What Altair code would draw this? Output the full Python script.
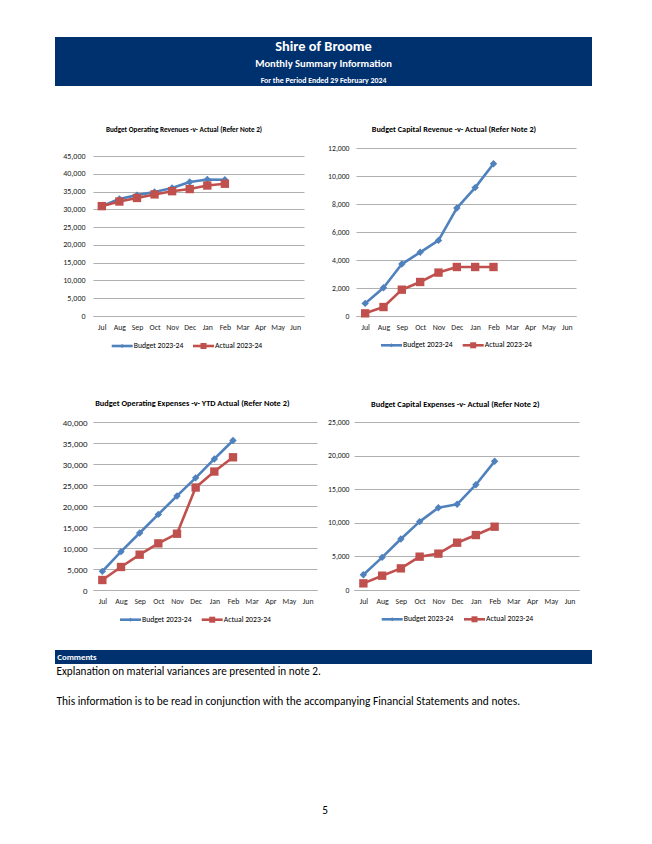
import altair as alt
import pandas as pd

FONT = "Carlito, Calibri, Lato, sans-serif"
NAVY = "#00316F"
BLUE = "#4F81BD"
RED = "#C0504D"
GRID = "#B0B0B0"
LABEL = "#222222"

# ---------------- data ----------------
months = ["Jul", "Aug", "Sep", "Oct", "Nov", "Dec", "Jan", "Feb", "Mar", "Apr", "May", "Jun"]
series = ["Budget 2023-24", "Actual 2023-24"]

op_rev_budget = [30900, 32900, 34000, 34900, 36000, 37700, 38400, 38300]
op_rev_actual = [30900, 32200, 33200, 34200, 35100, 35700, 36700, 37200]
cap_rev_budget = [900, 2020, 3710, 4550, 5400, 7710, 9170, 10880]
cap_rev_actual = [190, 640, 1880, 2430, 3100, 3500, 3500, 3500]
op_exp_budget = [4440, 9130, 13570, 18000, 22400, 26700, 31200, 35600]
op_exp_actual = [2380, 5480, 8410, 11100, 13400, 24400, 28200, 31600]
cap_exp_budget = [2280, 4860, 7590, 10170, 12250, 12750, 15670, 19150]
cap_exp_actual = [990, 2130, 3220, 4960, 5410, 7040, 8180, 9420]

chart_titles = [
    "Budget Operating Revenues -v- Actual (Refer Note 2)",
    "Budget Capital Revenue -v- Actual (Refer Note 2)",
    "Budget Operating Expenses -v- YTD Actual (Refer Note 2)",
    "Budget Capital Expenses -v- Actual (Refer Note 2)",
]
header_lines = ["Shire of Broome", "Monthly Summary Information",
                "For the Period Ended 29 February 2024"]
comments_title = "Comments"
comment_lines = [
    "Explanation on material variances are presented in note 2.",
    "This information is to be read in conjunction with the accompanying Financial Statements and notes.",
]
page_number = "5"

ONE = pd.DataFrame({"k": [0]})
LEFT = 85  # every row's origin sits 85px right of the page content edge


def text_layer(txt, x, y, size, weight="normal", color="black", align="center"):
    return alt.Chart(pd.DataFrame({"t": [txt]})).mark_text(
        font=FONT, fontSize=size, fontWeight=weight, color=color,
        align=align, baseline="middle"
    ).encode(x=alt.value(x), y=alt.value(y), text="t:N")


def frame(x0, x1, y0, y1):
    return alt.Chart(ONE).mark_rect(opacity=0).encode(
        x=alt.value(x0), x2=alt.value(x1), y=alt.value(y0), y2=alt.value(y1))


def panel(title, budget, actual, ymax, ystep, g):
    rows = []
    for name, vals in zip(series, [budget, actual]):
        for i, v in enumerate(vals):
            rows.append({"month": months[i], "idx": i, "series": name, "value": v})
    df = pd.DataFrame(rows)

    xenc = alt.X("month:N", sort=months, scale=alt.Scale(domain=months),
                 title=None,
                 axis=alt.Axis(labelAngle=0, labelFont=FONT, labelFontSize=g["xfs"],
                               labelColor=LABEL, labelPadding=g["xpad"], ticks=False,
                               tickSize=0, domain=True, domainColor=GRID, domainWidth=1.2,
                               grid=False))
    yenc = alt.Y("value:Q", scale=alt.Scale(domain=[0, g.get("dmax", ymax)], nice=False,
                                            zero=True),
                 title=None,
                 axis=alt.Axis(values=list(range(0, ymax + 1, ystep)), format=",.0f",
                               labelFont=FONT, labelFontSize=g["yfs"], labelColor=LABEL,
                               labelPadding=g["ypad"], ticks=False, tickSize=0,
                               domain=False, grid=True, gridColor=GRID, gridWidth=1.2))

    fx, fy, cw, ch = g["fx"], g["fy"], g["cw"], g["ch"]
    layers = [frame(-fx, cw - fx, -fy, ch - fy),
              text_layer(title, g["tx"], g["ty"], g["tfs"], weight="bold")]
    styles = [(BLUE, "diamond", 55), (RED, "square", 70)]
    for name, (col, shp, sz) in zip(series, styles):
        sub = alt.Chart(df).transform_filter(alt.datum.series == name)
        layers.append(sub.mark_line(color=col, strokeWidth=2.6, strokeJoin="round",
                                    strokeCap="round").encode(x=xenc, y=yenc, order="idx:Q"))
        layers.append(sub.mark_point(filled=True, shape=shp, size=sz, color=col,
                                     opacity=1).encode(x=xenc, y=yenc))

    # legend (line + marker + label), like the spreadsheet legend
    ly = g["ly"]
    leg_sizes = [16, 36]
    for k, (name, (col, shp, sz)) in enumerate(zip(series, styles)):
        x0 = g["lx"][k]
        ld = alt.Chart(pd.DataFrame({"series": [name]}))
        layers.append(ld.mark_rule(color=col, strokeWidth=2.6).encode(
            x=alt.value(x0), x2=alt.value(x0 + 21), y=alt.value(ly)))
        layers.append(ld.mark_point(filled=True, shape=shp, size=leg_sizes[k], color=col,
                                    opacity=1).encode(x=alt.value(x0 + 10.5), y=alt.value(ly)))
        layers.append(ld.mark_text(font=FONT, fontSize=7.7, align="left", baseline="middle",
                                   color="black").encode(
            x=alt.value(x0 + 22), y=alt.value(ly), text="series:N"))

    return alt.layer(*layers).properties(width=g["w"], height=g["h"])


# views: chart1 page x 93..304 y 148..316 (45,000 line at 156), chart2 356..576 y 148..316,
#        chart3 93..317 y 422..590, chart4 354..579 y 422..590
g1 = dict(w=211, h=168, dmax=47250, fx=LEFT, fy=48, cw=314, ch=280, tx=91, ty=-18,
          tfs=7.2, xfs=7.8, yfs=8.0, xpad=7, ypad=8, ly=198, lx=[18.7, 100])
g2 = dict(w=220, h=168, fx=34, fy=48, cw=322, ch=280, tx=98, ty=-18, tfs=8.2,
          xfs=7.8, yfs=7.7, xpad=7, ypad=7, ly=197.3, lx=[25, 106.7])
g3 = dict(w=224, h=168, fx=LEFT, fy=42, cw=314, ch=260, tx=99.3, ty=-18, tfs=8.3,
          xfs=7.8, yfs=8.9, xpad=7, ypad=6, ly=197.7, lx=[27, 108.7])
g4 = dict(w=225, h=168, fx=32, fy=42, cw=322, ch=260, tx=101.3, ty=-17, tfs=8.3,
          xfs=7.8, yfs=7.7, xpad=7, ypad=5, ly=197.3, lx=[27.7, 110])

p1 = panel(chart_titles[0], op_rev_budget, op_rev_actual, 45000, 5000, g1)
p2 = panel(chart_titles[1], cap_rev_budget, cap_rev_actual, 12000, 2000, g2)
p3 = panel(chart_titles[2], op_exp_budget, op_exp_actual, 40000, 5000, g3)
p4 = panel(chart_titles[3], cap_exp_budget, cap_exp_actual, 25000, 5000, g4)

# ---------------- header (origin at page x 93) ----------------
CX = 323.5 - 93
header = alt.layer(
    frame(-LEFT, 636 - LEFT, 0, 92),
    alt.Chart(ONE).mark_rect(color=NAVY).encode(
        x=alt.value(55 - 93), x2=alt.value(592 - 93), y=alt.value(29), y2=alt.value(78)),
    text_layer(header_lines[0], CX, 39, 14.4, weight="bold", color="white"),
    text_layer(header_lines[1], CX, 56, 10.6, weight="bold", color="white"),
    text_layer(header_lines[2], CX, 72.5, 7.8, weight="bold", color="white"),
).properties(width=636 - LEFT, height=92)

# ---------------- footer ----------------
footer = alt.layer(
    frame(-LEFT, 636 - LEFT, 0, 196),
    alt.Chart(ONE).mark_rect(color=NAVY).encode(
        x=alt.value(55 - 93), x2=alt.value(592 - 93), y=alt.value(10), y2=alt.value(24)),
    text_layer(comments_title, 57.3 - 93, 17.3, 8.8, weight="bold", color="white", align="left"),
    text_layer(comment_lines[0], 56.5 - 93, 31.7, 11.2, align="left"),
    text_layer(comment_lines[1], 56.5 - 93, 62.3, 11.4, align="left"),
    text_layer(page_number, 325 - 93, 171, 11.3),
).properties(width=636 - LEFT, height=196)

chart = alt.vconcat(
    header,
    alt.hconcat(p1, p2, spacing=0),
    alt.hconcat(p3, p4, spacing=0),
    footer,
    spacing=0,
).properties(padding=0).configure(font=FONT, view=alt.ViewConfig(stroke=None))

chart.save("out.html", embed_options={"renderer": "svg", "actions": False})
